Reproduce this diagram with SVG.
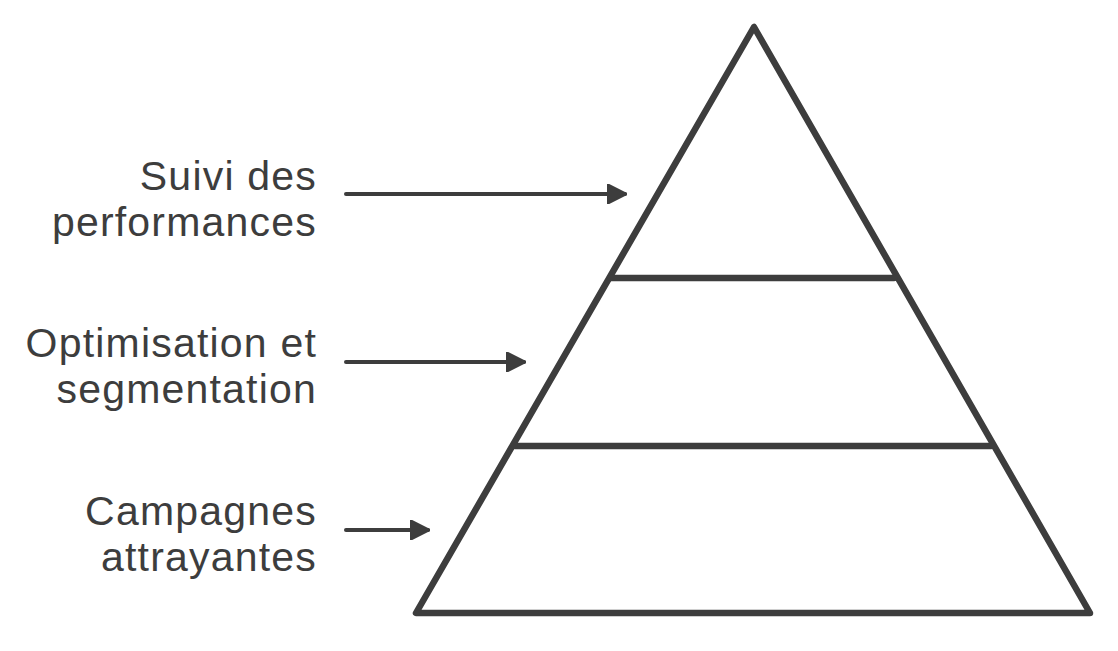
<svg xmlns="http://www.w3.org/2000/svg" width="1118" height="651" viewBox="0 0 1118 651">
<defs>
<style>
.lbl{font-family:"Liberation Sans","DejaVu Sans",sans-serif;font-size:41px;fill:#3d3d3d;text-anchor:end;letter-spacing:1.2px}
.edge{stroke:#3d3d3d;stroke-width:4;fill:none;stroke-linecap:round}
.shape{stroke:#3d3d3d;stroke-width:6.5;fill:none;stroke-linecap:round;stroke-linejoin:round}
</style>
<marker id="ah" viewBox="0 0 10 10" refX="9" refY="5" markerWidth="5" markerHeight="5" orient="auto" markerUnits="strokeWidth">
<path d="M0,0 L10,5 L0,10 Z" fill="#3d3d3d" stroke="#3d3d3d" stroke-linejoin="round"/>
</marker>
</defs>
<rect width="1118" height="651" fill="#ffffff"/>
<g id="pyramid">
<path class="shape" d="M754,27 L416,613 L1090,613 Z"/>
<line class="shape" x1="611" y1="278" x2="894" y2="278"/>
<line class="shape" x1="515" y1="446" x2="991" y2="446"/>
</g>
<g id="label-suivi">
<text class="lbl" x="317" y="190">Suivi des</text>
<text class="lbl" x="317" y="236">performances</text>
</g>
<g id="label-optimisation">
<text class="lbl" x="317" y="357">Optimisation et</text>
<text class="lbl" x="317" y="403">segmentation</text>
</g>
<g id="label-campagnes">
<text class="lbl" x="317" y="525">Campagnes</text>
<text class="lbl" x="317" y="571">attrayantes</text>
</g>
<g id="connectors">
<line class="edge" x1="346" y1="194" x2="625" y2="194" marker-end="url(#ah)"/>
<line class="edge" x1="346" y1="362" x2="524" y2="362" marker-end="url(#ah)"/>
<line class="edge" x1="346" y1="530" x2="428" y2="530" marker-end="url(#ah)"/>
</g>
</svg>
